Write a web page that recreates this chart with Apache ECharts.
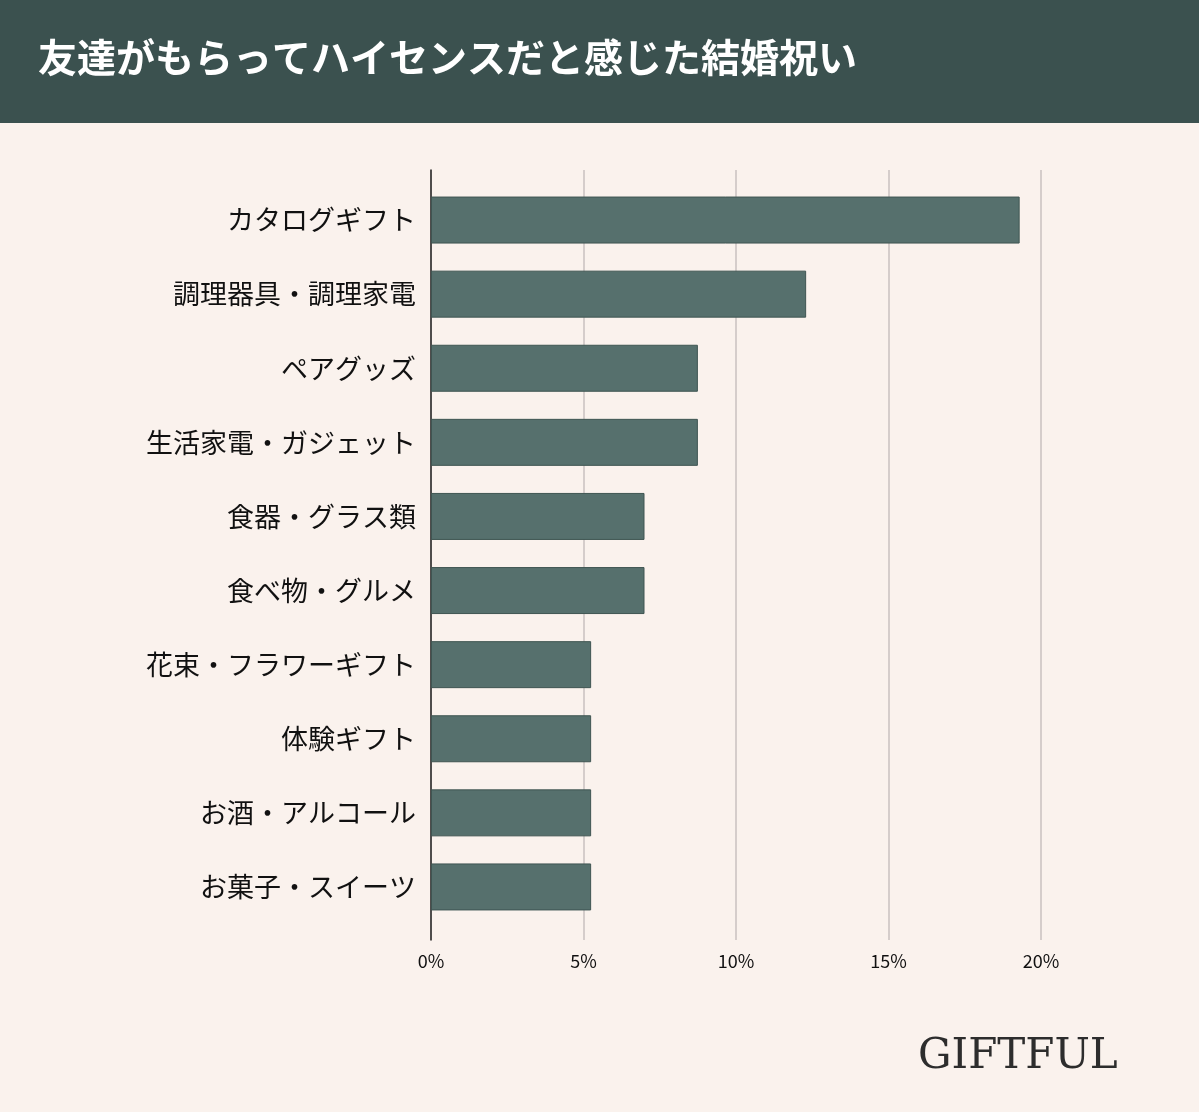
<!DOCTYPE html>
<html>
<head>
<meta charset="utf-8">
<script src="https://cdn.jsdelivr.net/npm/echarts@6/dist/echarts.min.js"></script>
<style>
html,body{margin:0;padding:0;background:#faf2ed;}
#main{width:1199px;height:1112px;}
</style>
</head>
<body>
<div id="main"></div>
<script>
var categories = ['カタログギフト', '調理器具・調理家電', 'ペアグッズ', '生活家電・ガジェット', '食器・グラス類', '食べ物・グルメ', '花束・フラワーギフト', '体験ギフト', 'お酒・アルコール', 'お菓子・スイーツ'];
var values = [19.3, 12.3, 8.75, 8.75, 7.0, 7.0, 5.25, 5.25, 5.25, 5.25];

var font = '"Noto Sans CJK JP", sans-serif';
var chart = echarts.init(document.getElementById('main'));
chart.setOption({
    backgroundColor: '#faf2ed',
    animation: false,
    graphic: [
        { type: 'rect', left: 0, top: 0, shape: { width: 1199, height: 123 }, style: { fill: '#3b514f' } },
        { type: 'text', left: 38, top: 38, style: { text: '友達がもらってハイセンスだと感じた結婚祝い', fill: '#ffffff', font: 'bold 39px ' + font } },
        { type: 'text', left: 918, top: 1036, style: { text: 'GIFTFUL', fill: '#2d2d2d', font: '300 42px "DejaVu Serif", serif', letterSpacing: 14 } }
    ],
    grid: [
        { left: 431, right: 158, top: 183, bottom: 188 },
        { left: 431, right: 158, top: 170, bottom: 172 }
    ],
    xAxis: [{
        type: 'value', min: 0, max: 20, gridIndex: 0, show: false
    }, {
        type: 'value', min: 0, max: 20, interval: 5, gridIndex: 1,
        axisLabel: { formatter: '{value}%', color: '#111', fontSize: 18, margin: 12, fontFamily: font },
        splitLine: { lineStyle: { color: '#c9c1bf', width: 1.5 } },
        axisLine: { show: false }, axisTick: { show: false }
    }],
    yAxis: [{
        type: 'category', inverse: true, data: categories, gridIndex: 0,
        axisLine: { show: false },
        axisTick: { show: false },
        axisLabel: { color: '#111', fontSize: 27, margin: 15, fontFamily: font }
    }, {
        type: 'value', gridIndex: 1, min: 0, max: 1,
        axisLine: { show: true, lineStyle: { color: '#222', width: 1.5 } },
        axisTick: { show: false }, axisLabel: { show: false }, splitLine: { show: false }
    }],
    series: [{
        type: 'bar', data: values, barWidth: 47, xAxisIndex: 0, yAxisIndex: 0, z: 3,
        itemStyle: { color: '#56706d', borderColor: '#3f5552', borderWidth: 1 }
    }]
});
</script>
</body>
</html>
